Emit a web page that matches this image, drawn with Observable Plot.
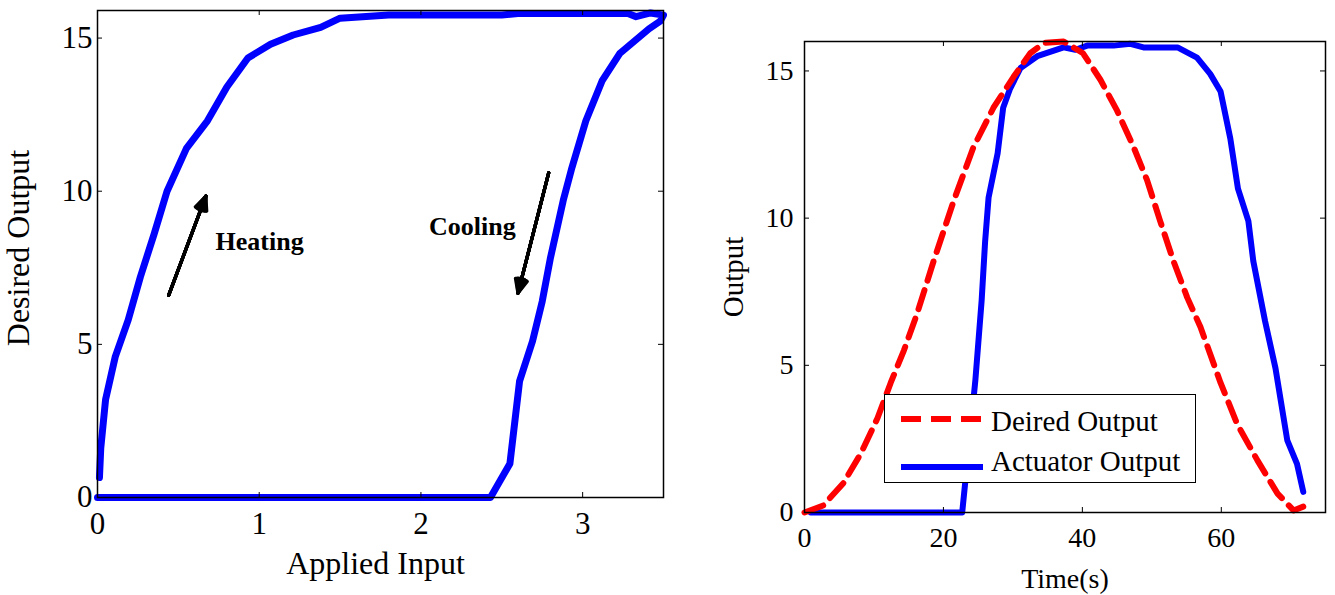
<!DOCTYPE html>
<html>
<head>
<meta charset="utf-8">
<script src="https://cdn.jsdelivr.net/npm/d3@7"></script>
<script src="https://cdn.jsdelivr.net/npm/@observablehq/plot@0.6"></script>
<style>
html, body { margin: 0; padding: 0; background: #fff; }
#wrap { position: relative; width: 1335px; height: 595px; overflow: hidden; background: #fff;
        font-family: "Liberation Serif", "Times New Roman", serif; }
#left { position: absolute; left: 0; top: 0; }
#right { position: absolute; left: 690px; top: 0; }
#legend { position: absolute; left: 884px; top: 394px; width: 310px; height: 87px;
          border: 1.5px solid #000; background: #fff; }
</style>
</head>
<body>
<div id="wrap"><div id="left"></div><div id="right"></div><div id="legend"></div></div>
<script>
// ---------- Left panel data: hysteresis loop ----------
const loopInput = [0.012, 0.02, 0.05, 0.11, 0.19, 0.265, 0.35, 0.43, 0.55, 0.68, 0.80, 0.93, 1.07, 1.21, 1.38, 1.50,
                   1.80, 2.50, 2.60, 3.28, 3.33, 3.42, 3.50,
                   3.48, 3.41, 3.32, 3.23, 3.12, 3.02, 2.93, 2.88, 2.80, 2.75, 2.69, 2.61, 2.55, 2.43, 0.0];
const loopOutput = [0.65, 1.6, 3.2, 4.6, 5.8, 7.2, 8.6, 10.0, 11.4, 12.3, 13.4, 14.35, 14.8, 15.1, 15.35, 15.65,
                    15.75, 15.75, 15.8, 15.8, 15.7, 15.82, 15.75,
                    15.55, 15.3, 14.9, 14.5, 13.6, 12.3, 10.7, 9.7, 7.8, 6.4, 5.1, 3.8, 1.1, 0.0, 0.0];
const leftXTicks = [0, 1, 2, 3];
const leftYTicks = [0, 5, 10, 15];
const leftXLabel = "Applied Input";
const leftYLabel = "Desired Output";
// annotations (arrows + labels) in data units
const annText = ["Heating", "Cooling"];
const annArrowX1 = [0.44, 2.79];
const annArrowY1 = [6.6, 10.6];
const annArrowX2 = [0.67, 2.60];
const annArrowY2 = [9.84, 6.67];
const annTextX = [0.73, 2.05];
const annTextY = [8.35, 8.85];

// ---------- Right panel data: time responses ----------
const seriesNames = ["Deired Output", "Actuator Output"];
const desiredTime = [0, 2.7, 5.6, 8.1, 10.5, 12.4, 14.3, 16.2, 18.6, 21.5, 24.3, 27.2, 30.1, 32.5, 34.5, 37.3,
                     40.1, 42.6, 45.0, 47.4, 49.3, 51.2, 53.1, 55.1, 57.0, 59.9, 62.3, 65.2, 68.1, 70.4, 71.8];
const desiredValue = [0, 0.24, 1.0, 2.0, 3.2, 4.4, 5.5, 6.75, 8.55, 10.6, 12.4, 13.75, 14.8, 15.6, 15.95, 16.0,
                      15.6, 14.7, 13.65, 12.4, 11.3, 9.9, 8.55, 7.3, 6.3, 4.4, 3.0, 1.77, 0.64, 0.07, 0.2];
const actuatorTime = [0.9, 22.7, 23.3, 24.6, 25.5, 26.0, 26.5, 27.8, 28.6, 29.6, 31.1, 33.5, 37.3, 39.0, 40.7,
                      44.5, 46.9, 48.8, 53.7, 56.5, 58.4, 59.9, 61.3, 62.4, 63.9, 64.6, 66.3, 67.8, 69.5, 70.9, 71.8];
const actuatorValue = [0, 0, 1.4, 4.5, 7.2, 9.2, 10.7, 12.2, 13.75, 14.4, 15.1, 15.5, 15.8, 15.72, 15.86,
                       15.86, 15.92, 15.8, 15.8, 15.45, 14.9, 14.3, 12.7, 11.0, 9.9, 8.55, 6.5, 4.9, 2.45, 1.65, 0.7];
const rightXTicks = [0, 20, 40, 60];
const rightYTicks = [0, 5, 10, 15];
const rightXLabel = "Time(s)";
const rightYLabel = "Output";

const FONT = '"Liberation Serif", "Times New Roman", serif';
const BLUE = "#0000ff", RED = "#ff0000";
const TICK = 5;
const fmt = d => String(d);

function boxTicks(xt, yt, iw, ih) {
  const s = {stroke: "#000", strokeWidth: 1};
  return [
    Plot.tickX(xt, {x: d => d, insetTop: ih - TICK, ...s}),
    Plot.tickX(xt, {x: d => d, insetBottom: ih - TICK, ...s}),
    Plot.tickY(yt, {y: d => d, insetRight: iw - TICK, ...s}),
    Plot.tickY(yt, {y: d => d, insetLeft: iw - TICK, ...s})
  ];
}

// ---------- Left chart ----------
{
  const W = 680, H = 595, m = {top: 10, right: 17, bottom: 98, left: 97};
  const iw = W - m.left - m.right, ih = H - m.top - m.bottom;
  const loop = loopInput.map((x, i) => ({x, y: loopOutput[i]}));
  const ann = annText.map((t, i) => ({t, x1: annArrowX1[i], y1: annArrowY1[i], x2: annArrowX2[i], y2: annArrowY2[i],
                                      tx: annTextX[i], ty: annTextY[i]}));
  const SW = 3.2;
  const headLen = 15 * 1.5 / SW; // Plot scales wing length by strokeWidth / 1.5
  const chart = Plot.plot({
    width: W, height: H,
    marginTop: m.top, marginRight: m.right, marginBottom: m.bottom, marginLeft: m.left,
    style: {fontFamily: FONT, fontSize: "31px", background: "#fff", color: "#000", overflow: "visible"},
    x: {domain: [0, 3.5]},
    y: {domain: [0, 15.9]},
    marks: [
      Plot.line(loop, {x: "x", y: "y", stroke: BLUE, strokeWidth: 7, strokeLinejoin: "round"}),
      ...[48, 40, 32, 24, 16, 8, 1].map(a => Plot.arrow(ann, {x1: "x1", y1: "y1", x2: "x2", y2: "y2", stroke: "#000",
                                                 strokeWidth: SW, headLength: headLen, headAngle: a})),
      Plot.text(ann, {x: "tx", y: "ty", text: "t", textAnchor: "start", fontWeight: "bold", fontSize: 26,
                      fontFamily: FONT, fill: "#000"}),
      Plot.frame({stroke: "#000", strokeWidth: 1.5}),
      ...boxTicks(leftXTicks, leftYTicks, iw, ih),
      Plot.axisX(leftXTicks, {tickSize: 0, tickPadding: 14, tickFormat: fmt, fontSize: 31, fontFamily: FONT, fill: "#000", label: null}),
      Plot.axisY(leftYTicks, {tickSize: 0, tickPadding: 5, tickFormat: fmt, fontSize: 31, fontFamily: FONT, fill: "#000", label: null}),
      Plot.text([leftXLabel], {text: d => d, frameAnchor: "bottom", textAnchor: "middle", dy: 76, dx: -5, fontSize: 32, fontFamily: FONT, fill: "#000"}),
      Plot.text([leftYLabel], {text: d => d, frameAnchor: "left", textAnchor: "middle", rotate: -90, dx: -79, dy: -6, fontSize: 32, fontFamily: FONT, fill: "#000"})
    ]
  });
  document.getElementById("left").appendChild(chart);
}

// ---------- Right chart ----------
{
  const W = 645, H = 595, m = {top: 41, right: 10, bottom: 83, left: 114};
  const iw = W - m.left - m.right, ih = H - m.top - m.bottom;
  const desired = desiredTime.map((t, i) => ({t, v: desiredValue[i]}));
  const actuator = actuatorTime.map((t, i) => ({t, v: actuatorValue[i]}));
  const chart = Plot.plot({
    width: W, height: H,
    marginTop: m.top, marginRight: m.right, marginBottom: m.bottom, marginLeft: m.left,
    style: {fontFamily: FONT, fontSize: "28px", background: "#fff", color: "#000", overflow: "visible"},
    x: {domain: [0, 75]},
    y: {domain: [0, 16]},
    marks: [
      Plot.line(actuator, {x: "t", y: "v", stroke: BLUE, strokeWidth: 6, strokeLinejoin: "round"}),
      Plot.line(desired, {x: "t", y: "v", stroke: RED, strokeWidth: 6, strokeDasharray: "20,10", strokeLinejoin: "round"}),
      Plot.frame({stroke: "#000", strokeWidth: 1.5}),
      ...boxTicks(rightXTicks, rightYTicks, iw, ih),
      Plot.axisX(rightXTicks, {tickSize: 0, tickPadding: 15, tickFormat: fmt, fontSize: 28, fontFamily: FONT, fill: "#000", label: null}),
      Plot.axisY(rightYTicks, {tickSize: 0, tickPadding: 11, tickFormat: fmt, fontSize: 28, fontFamily: FONT, fill: "#000", label: null}),
      Plot.text([rightXLabel], {text: d => d, frameAnchor: "bottom", textAnchor: "middle", dy: 75, fontSize: 28, fontFamily: FONT, fill: "#000"}),
      Plot.text([rightYLabel], {text: d => d, frameAnchor: "left", textAnchor: "middle", rotate: -90, dx: -71, fontSize: 29, fontFamily: FONT, fill: "#000"})
    ]
  });
  document.getElementById("right").appendChild(chart);
}

// ---------- Legend ----------
{
  const colors = [RED, BLUE];
  const dashes = ["20,10", null];
  const ys = [24, 72];
  const baselines = [36, 76];
  const svg = d3.select("#legend").append("svg").attr("width", 310).attr("height", 87)
    .style("display", "block");
  seriesNames.forEach((name, i) => {
    svg.append("line").attr("x1", 16).attr("x2", 98).attr("y1", ys[i]).attr("y2", ys[i])
      .attr("stroke", colors[i]).attr("stroke-width", 6).attr("stroke-dasharray", dashes[i]);
    svg.append("text").attr("x", 106).attr("y", baselines[i]).attr("font-size", 29)
      .attr("font-family", FONT).attr("fill", "#000").text(name);
  });
}
</script>
</body>
</html>
